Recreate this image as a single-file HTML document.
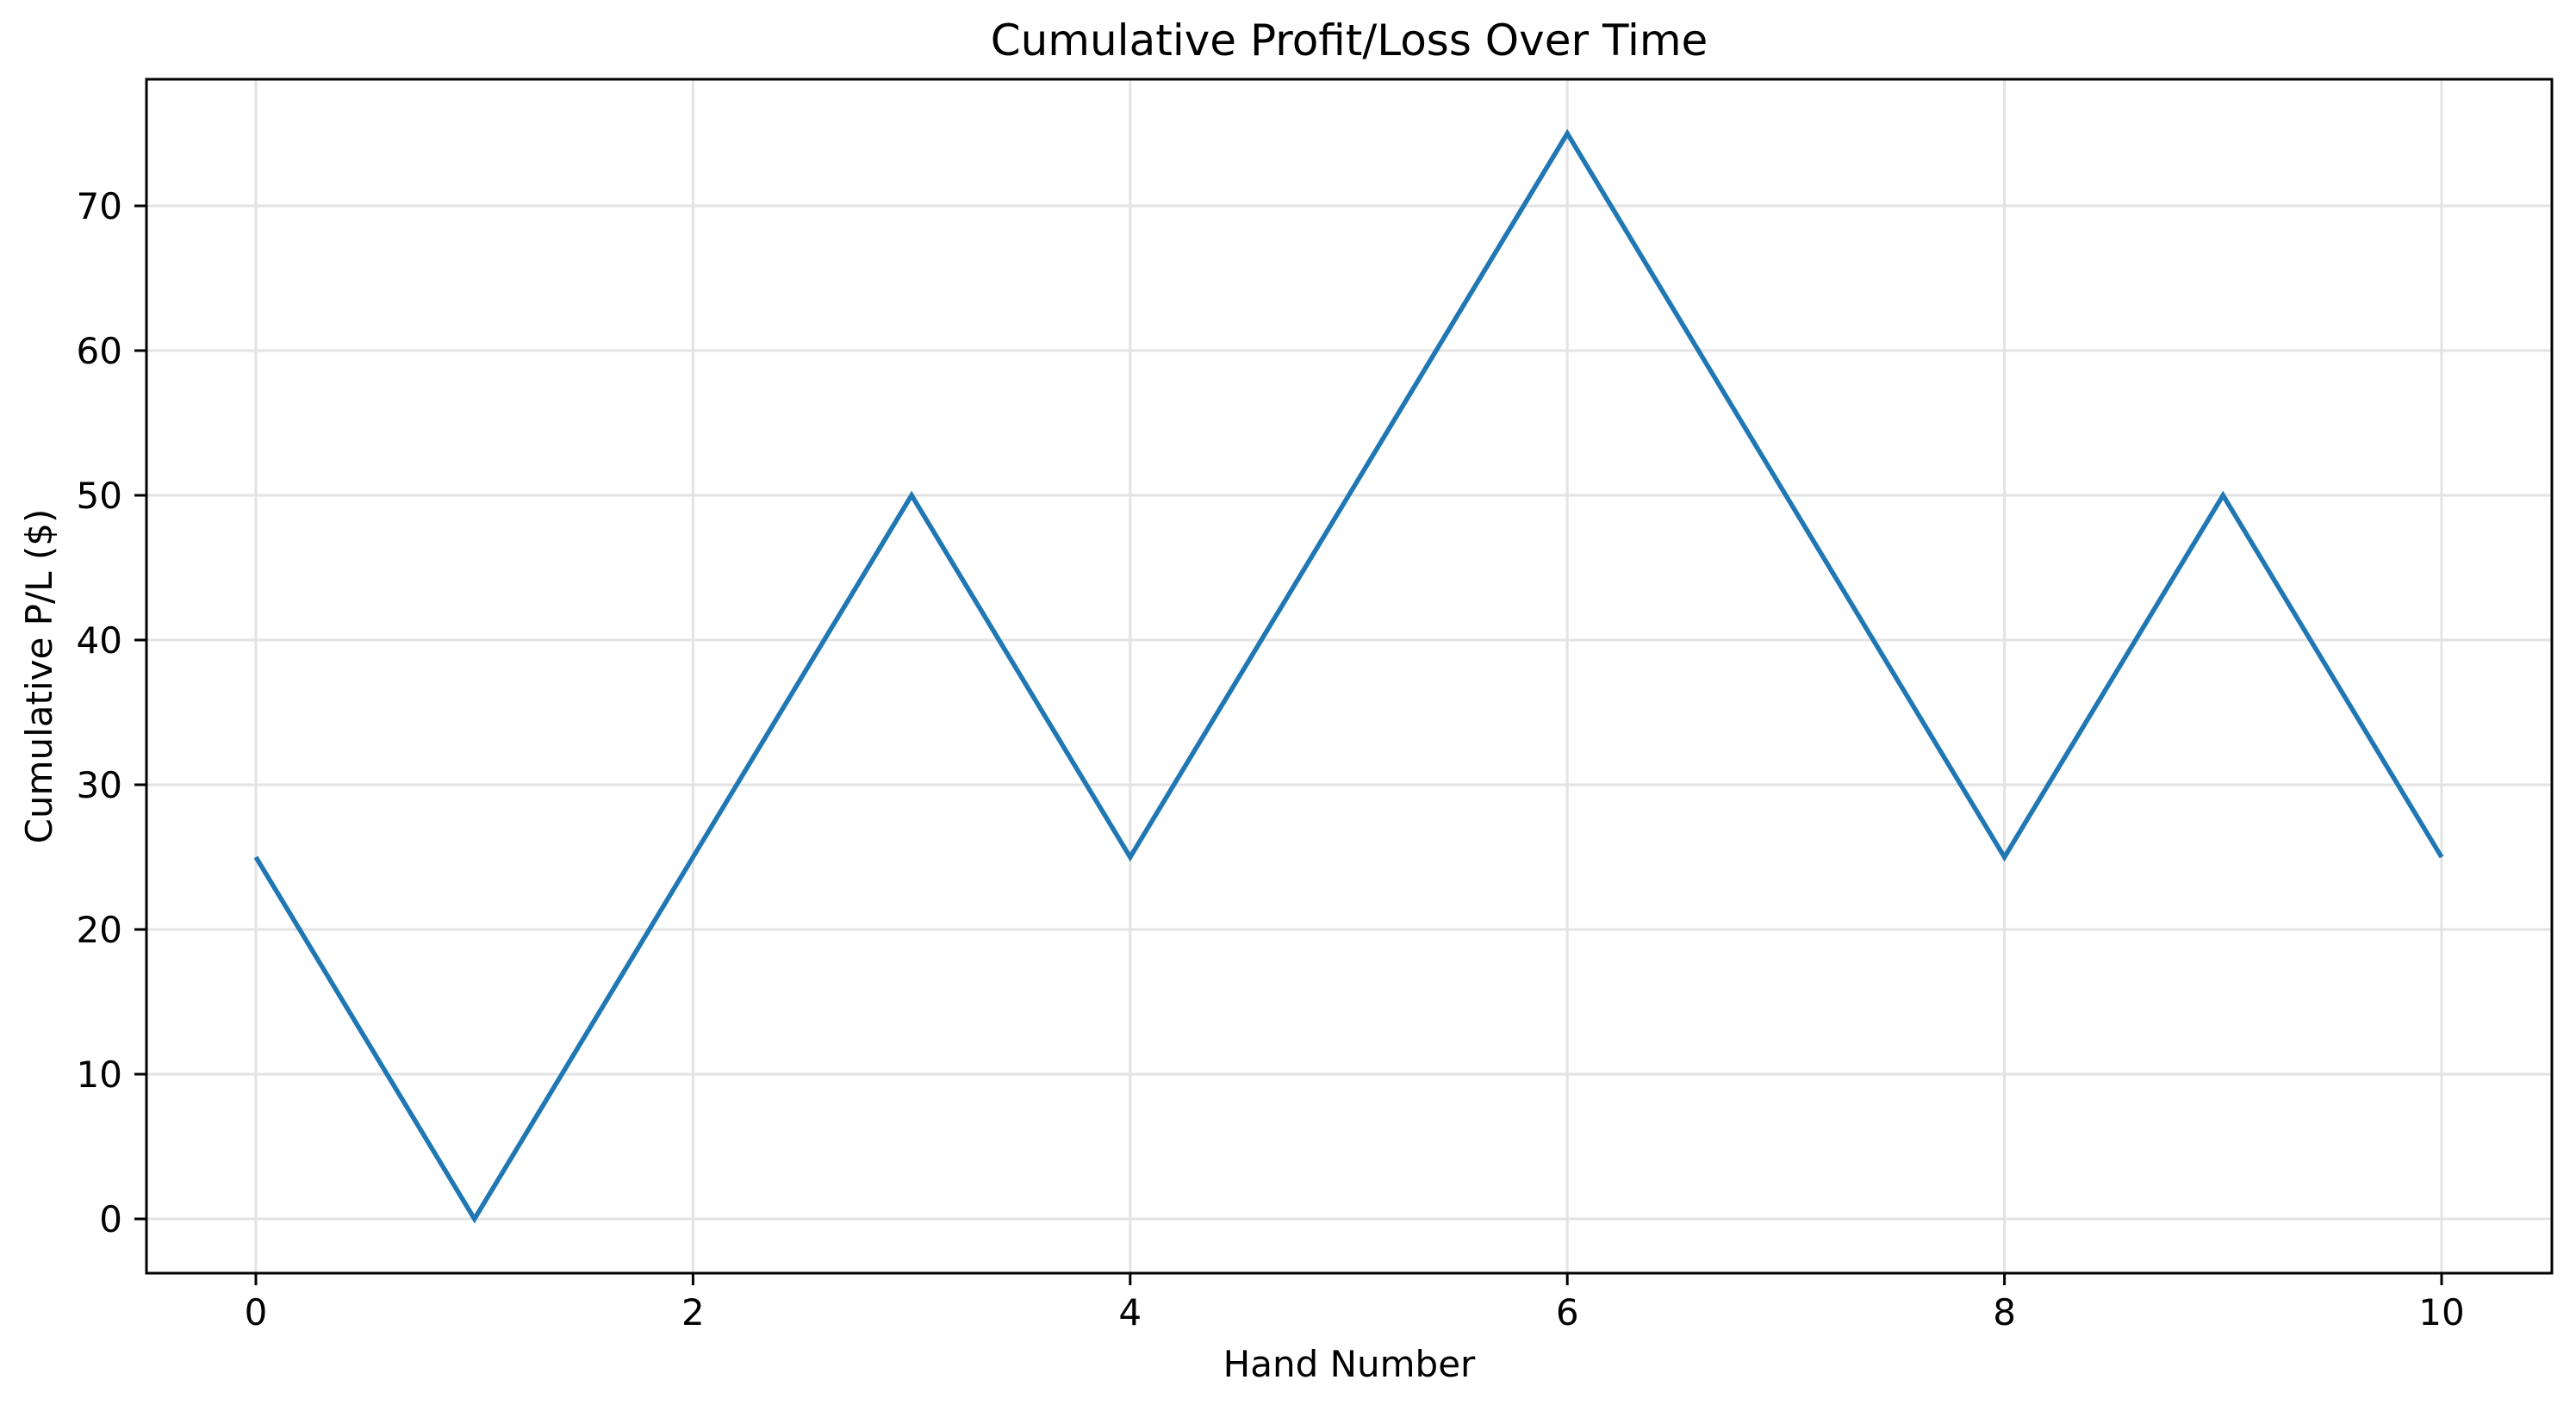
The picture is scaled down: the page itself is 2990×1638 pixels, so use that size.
<!DOCTYPE html>
<html><head><meta charset="utf-8"><style>
html,body{margin:0;padding:0;background:#fff;}
svg{display:block;font-family:"DejaVu Sans","Liberation Sans",sans-serif;}
</style></head><body>
<svg id="chart" width="2990" height="1638" viewBox="0 0 2990 1638" xmlns="http://www.w3.org/2000/svg">
<rect width="2990" height="1638" fill="#fff"/>
<g id="grid"></g>
<g id="series"></g>
<rect x="170" y="92" width="2792" height="1386" fill="none" stroke="#000" stroke-width="3"/>
<g id="ticks"></g>
<text x="1566" y="64" font-size="50" text-anchor="middle">Cumulative Profit/Loss Over Time</text>
<text x="1566" y="1598" font-size="42" text-anchor="middle">Hand Number</text>
<text x="0" y="0" font-size="42" text-anchor="middle" transform="translate(60,785) rotate(-90)">Cumulative P/L ($)</text>
</svg>
<script>
const hands=[0,1,2,3,4,5,6,7,8,9,10];
const pl=[25,0,25,50,25,50,75,50,25,50,25];
const xTicks=[0,2,4,6,8,10];
const yTicks=[0,10,20,30,40,50,60,70];
const NS="http://www.w3.org/2000/svg";
function xs(v){return 297+v*253.7;}
function ys(v){return 1415-v*16.8;}
const grid=document.getElementById('grid'),ticks=document.getElementById('ticks'),series=document.getElementById('series');
function mk(tag,attrs,parent){const e=document.createElementNS(NS,tag);for(const k in attrs)e.setAttribute(k,attrs[k]);parent.appendChild(e);return e;}
xTicks.forEach(t=>{
  const g=mk('line',{x1:xs(t),x2:xs(t),y1:92,y2:1478,stroke:'#e3e3e3','stroke-width':3},grid);
  
  
  const tk=mk('line',{x1:xs(t),x2:xs(t),y1:1478,y2:1492,stroke:'#000','stroke-width':3},ticks);
  
  
  const lb=mk('text',{x:xs(t),y:1538,'font-size':42,'text-anchor':'middle'},ticks);
  lb.textContent=t;
  
  
});
yTicks.forEach(t=>{
  const g=mk('line',{x1:170,x2:2962,y1:ys(t),y2:ys(t),stroke:'#e3e3e3','stroke-width':3},grid);
  
  
  const tk=mk('line',{x1:156,x2:170,y1:ys(t),y2:ys(t),stroke:'#000','stroke-width':3},ticks);
  
  
  const lb=mk('text',{x:142,y:ys(t)+15,'font-size':42,'text-anchor':'end'},ticks);
  lb.textContent=t;
  
  
});
const pts=hands.map((h,i)=>xs(h)+','+ys(pl[i])).join(' ');
const line=mk('polyline',{points:pts,fill:'none',stroke:'#1f77b4','stroke-width':5.5,'stroke-linejoin':'miter'},series);


</script>
</body></html>
